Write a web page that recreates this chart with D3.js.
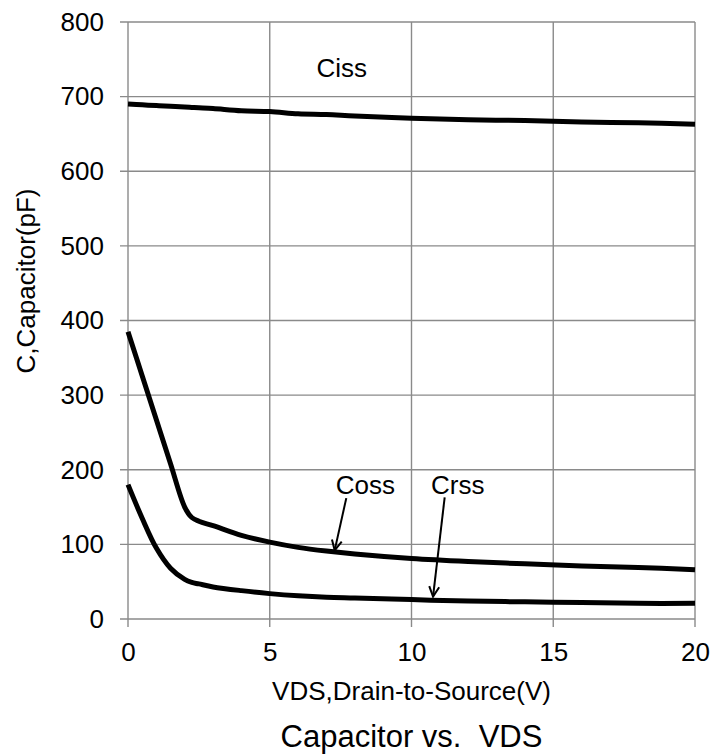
<!DOCTYPE html>
<html>
<head>
<meta charset="utf-8">
<script src="https://cdn.jsdelivr.net/npm/d3@7/dist/d3.min.js"></script>
<style>
  body { margin: 0; background: #fff; }
  svg { font-family: "Liberation Sans", Arial, sans-serif; }
</style>
</head>
<body>
<svg id="chart" width="712" height="755"></svg>
<script>
// data
const vds  = [0, 0.5, 1, 1.5, 2, 2.25, 2.5, 3, 4, 5, 6, 7, 8, 10, 12, 14, 16, 18, 20];
const ciss = [690, 689, 688, 687, 686, 685.5, 685, 684, 681, 680, 677, 676, 674, 671, 669, 668, 666, 665, 663];
const coss = [385, 326, 267, 208, 150, 136, 131, 125, 112, 103, 96, 91, 87, 81, 77, 74, 71, 69, 66];
const crss = [180, 135, 95, 68, 53, 49, 47, 43, 38, 34, 31, 29, 28, 26, 24, 23, 22, 21, 21];

const xTicks = [0, 5, 10, 15, 20];
const yTicks = [0, 100, 200, 300, 400, 500, 600, 700, 800];

// annotation labels and arrows (data coordinates)
const labelNames = ["Ciss", "Coss", "Crss"];
const labelX = [7.54, 8.37, 11.63];
const labelY = [726, 168, 168];
const arrowFrom = [[7.7, 162], [11.17, 163]];
const arrowTo = [[7.29, 92], [10.76, 30]];

document.addEventListener('DOMContentLoaded', function() {
    const svg = d3.select("#chart");
    const left = 128, right = 695, top = 22, bottom = 619;
    const fontSize = 26;

    const x = d3.scaleLinear().domain([0, 20]).range([left, right]);
    const y = d3.scaleLinear().domain([0, 800]).range([bottom, top]);

    const gridColor = "#8a8a8a";

    // grid lines (with the little tick stubs outside the plot)
    svg.append("g").selectAll("line")
        .data(yTicks).enter().append("line")
        .attr("x1", left - 8).attr("x2", right)
        .attr("y1", d => y(d)).attr("y2", d => y(d))
        .attr("stroke", gridColor).attr("stroke-width", 1.4);
    svg.append("g").selectAll("line")
        .data(xTicks).enter().append("line")
        .attr("x1", d => x(d)).attr("x2", d => x(d))
        .attr("y1", top).attr("y2", bottom + 8)
        .attr("stroke", gridColor).attr("stroke-width", 1.4);

    // axes, labels only
    const yAxis = svg.append("g")
        .attr("transform", `translate(${left},0)`)
        .call(d3.axisLeft(y).tickValues(yTicks).tickSize(0).tickPadding(24));
    const xAxis = svg.append("g")
        .attr("transform", `translate(0,${bottom})`)
        .call(d3.axisBottom(x).tickValues(xTicks).tickSize(0).tickPadding(24));
    [yAxis, xAxis].forEach(a => {
        a.select(".domain").remove();
        a.selectAll("text").attr("font-size", fontSize).attr("fill", "#000")
            .attr("font-family", '"Liberation Sans", Arial, sans-serif');
    });

    // curves
    const series = [ciss, coss, crss];
    const line = d3.line()
        .x((d, i) => x(vds[i]))
        .y(d => y(d))
        .curve(d3.curveCatmullRom.alpha(0.5));
    svg.append("g").selectAll("path")
        .data(series).enter().append("path")
        .attr("d", line)
        .attr("fill", "none")
        .attr("stroke", "#000")
        .attr("stroke-width", 5)
        .attr("stroke-linejoin", "round");

    // arrow marker
    svg.append("defs").append("marker")
        .attr("id", "arrow")
        .attr("viewBox", "0 0 12 12")
        .attr("refX", 11).attr("refY", 6)
        .attr("markerWidth", 12).attr("markerHeight", 12)
        .attr("markerUnits", "userSpaceOnUse")
        .attr("orient", "auto")
        .append("path")
        .attr("d", "M1,1 L11,6 L1,11")
        .attr("fill", "none").attr("stroke", "#000").attr("stroke-width", 2);

    svg.append("g").selectAll("line")
        .data(arrowFrom).enter().append("line")
        .attr("x1", d => x(d[0])).attr("y1", d => y(d[1]))
        .attr("x2", (d, i) => x(arrowTo[i][0])).attr("y2", (d, i) => y(arrowTo[i][1]))
        .attr("stroke", "#000").attr("stroke-width", 2)
        .attr("marker-end", "url(#arrow)");

    svg.append("g").selectAll("text")
        .data(labelNames).enter().append("text")
        .attr("x", (d, i) => x(labelX[i]))
        .attr("y", (d, i) => y(labelY[i]))
        .attr("text-anchor", "middle")
        .attr("font-size", fontSize)
        .text(d => d);

    // axis titles
    svg.append("text")
        .attr("x", (left + right) / 2).attr("y", 700)
        .attr("text-anchor", "middle").attr("font-size", fontSize)
        .text("VDS,Drain-to-Source(V)");
    svg.append("text")
        .attr("transform", `translate(35,281) rotate(-90)`)
        .attr("text-anchor", "middle").attr("font-size", fontSize)
        .text("C,Capacitor(pF)");

    // chart title
    svg.append("text")
        .attr("x", (left + right) / 2).attr("y", 747)
        .attr("text-anchor", "middle").attr("font-size", 31)
        .style("white-space", "pre")
        .text("Capacitor vs.  VDS");
});
</script>
</body>
</html>
